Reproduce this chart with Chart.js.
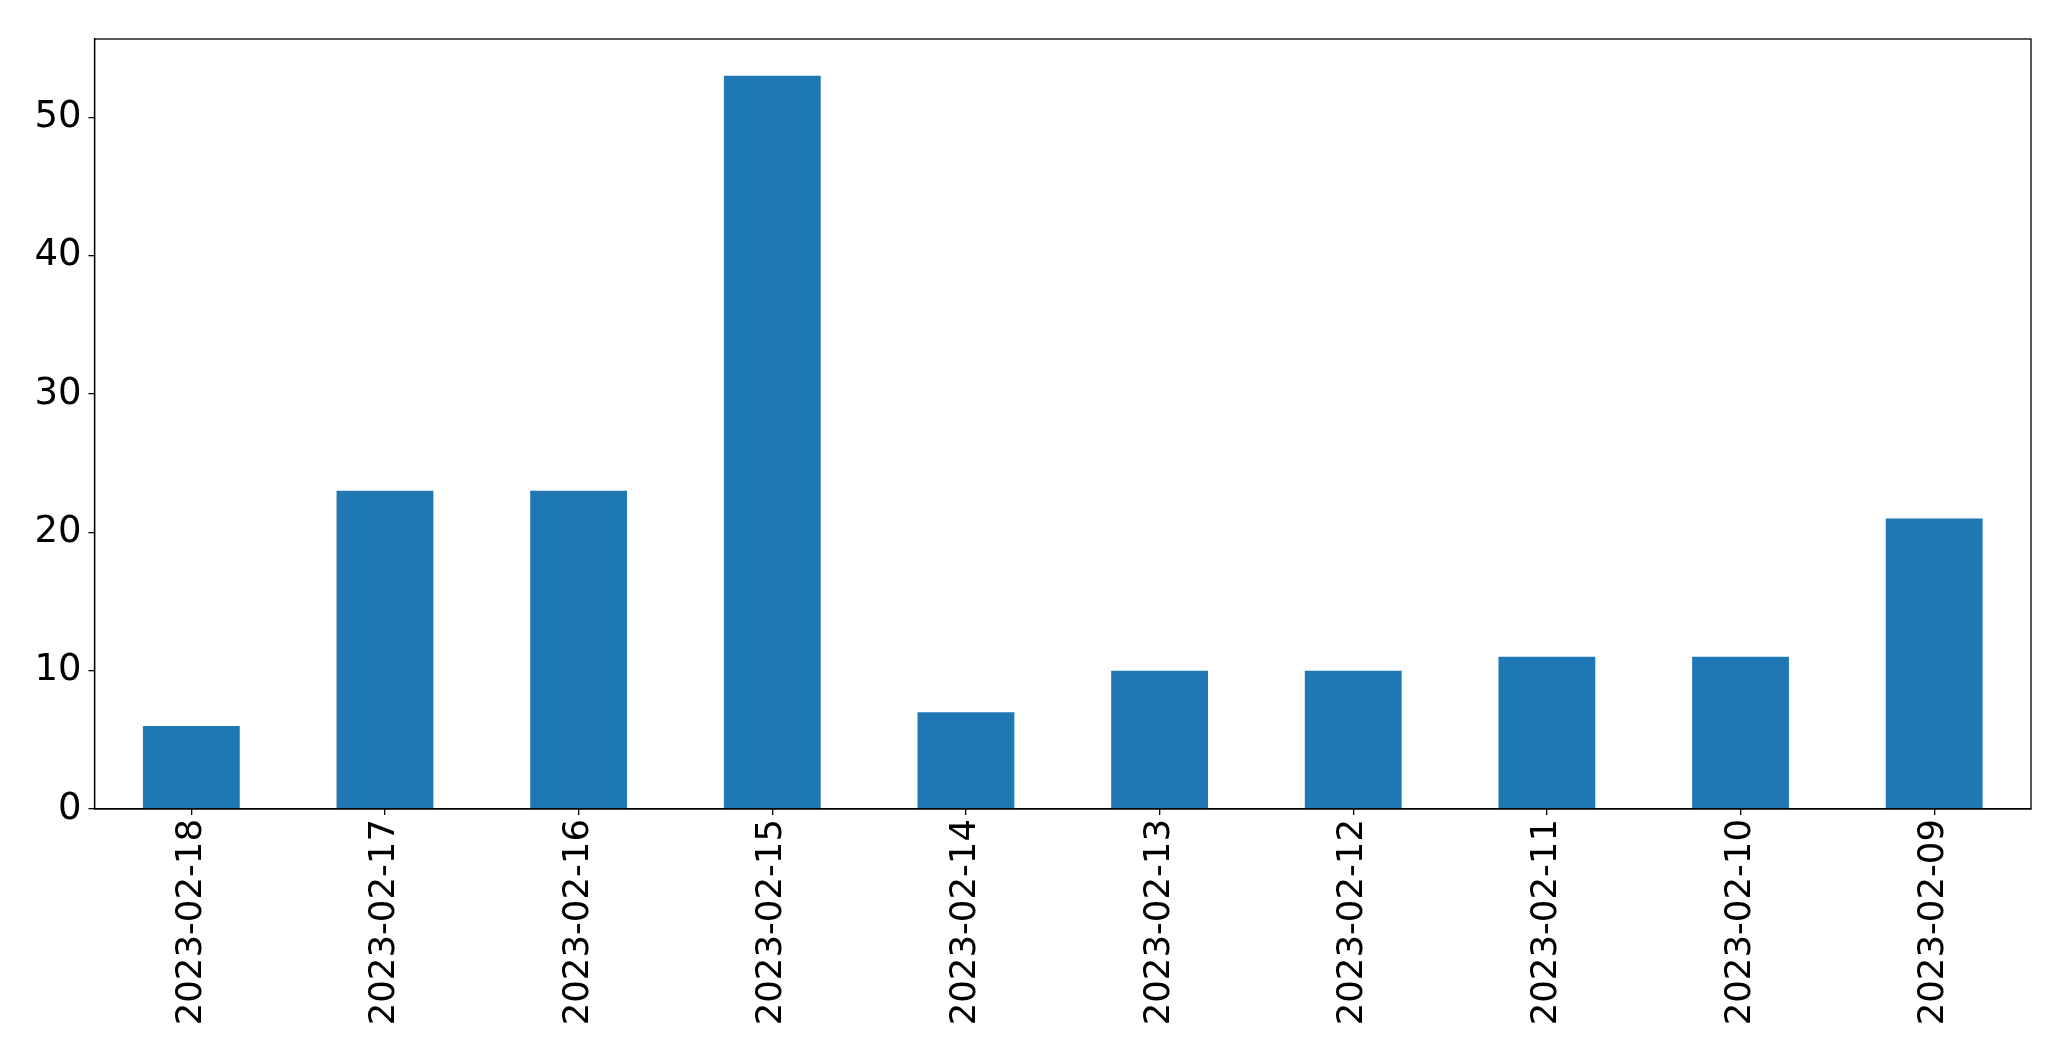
<!DOCTYPE html>
<html>
<head>
<meta charset="utf-8">
<script src="https://cdn.jsdelivr.net/npm/chart.js@4.4.0/dist/chart.umd.min.js"></script>
<style>
  html, body { margin: 0; padding: 0; background: #fff; }
  #wrap { width: 2071px; height: 1061px; }
</style>
</head>
<body>
<div id="wrap"><canvas id="bar"></canvas></div>
<script>
var dates = ['2023-02-18', '2023-02-17', '2023-02-16', '2023-02-15', '2023-02-14',
             '2023-02-13', '2023-02-12', '2023-02-11', '2023-02-10', '2023-02-09'];
var counts = [6, 23, 23, 53, 7, 10, 10, 11, 11, 21];
var yTicks = [0, 10, 20, 30, 40, 50];

var fontFamily = 'DejaVu Sans';

// draw the top and right edges of the frame like matplotlib does
var framePlugin = {
  id: 'frame',
  afterDraw: function(chart) {
    var a = chart.chartArea;
    var ctx = chart.ctx;
    ctx.save();
    ctx.strokeStyle = '#000';
    ctx.lineWidth = 1.3;
    ctx.strokeRect(a.left, a.top, a.right - a.left, a.bottom - a.top);
    ctx.restore();
  }
};

var ctx = document.getElementById('bar').getContext('2d');
var chart = new Chart(ctx, {
  type: 'bar',
  data: {
    labels: dates,
    datasets: [{
      data: counts,
      backgroundColor: '#1f77b4',
      borderWidth: 0,
      barPercentage: 0.5,
      categoryPercentage: 1.0
    }]
  },
  options: {
    responsive: true,
    maintainAspectRatio: false,
    animation: false,
    devicePixelRatio: 1,
    layout: { padding: { top: 39, right: 40, left: 0, bottom: 0 } },
    plugins: {
      legend: { display: false },
      tooltip: { enabled: false }
    },
    scales: {
      x: {
        offset: true,
        grid: { display: true, offset: false, drawOnChartArea: false, drawTicks: true, tickLength: 6, color: '#000', lineWidth: 1.3 },
        border: { display: true, color: '#000', width: 1.3 },
        ticks: {
          color: '#000',
          font: { family: fontFamily, size: 35.5 },
          maxRotation: 90,
          minRotation: 90,
          autoSkip: false,
          padding: 4
        },
        afterFit: function(scale) { scale.height = 252; }
      },
      y: {
        min: 0,
        max: 55.65,
        afterBuildTicks: function(scale) {
          scale.ticks = yTicks.map(function(v) { return { value: v }; });
        },
        grid: { display: true, drawOnChartArea: false, drawTicks: true, tickLength: 6, color: '#000', lineWidth: 1.3 },
        border: { display: true, color: '#000', width: 1.3 },
        ticks: {
          color: '#000',
          font: { family: fontFamily, size: 37 },
          padding: 7
        },
        afterFit: function(scale) { scale.width = 94.5; }
      }
    }
  },
  plugins: [framePlugin]
});
</script>
</body>
</html>
